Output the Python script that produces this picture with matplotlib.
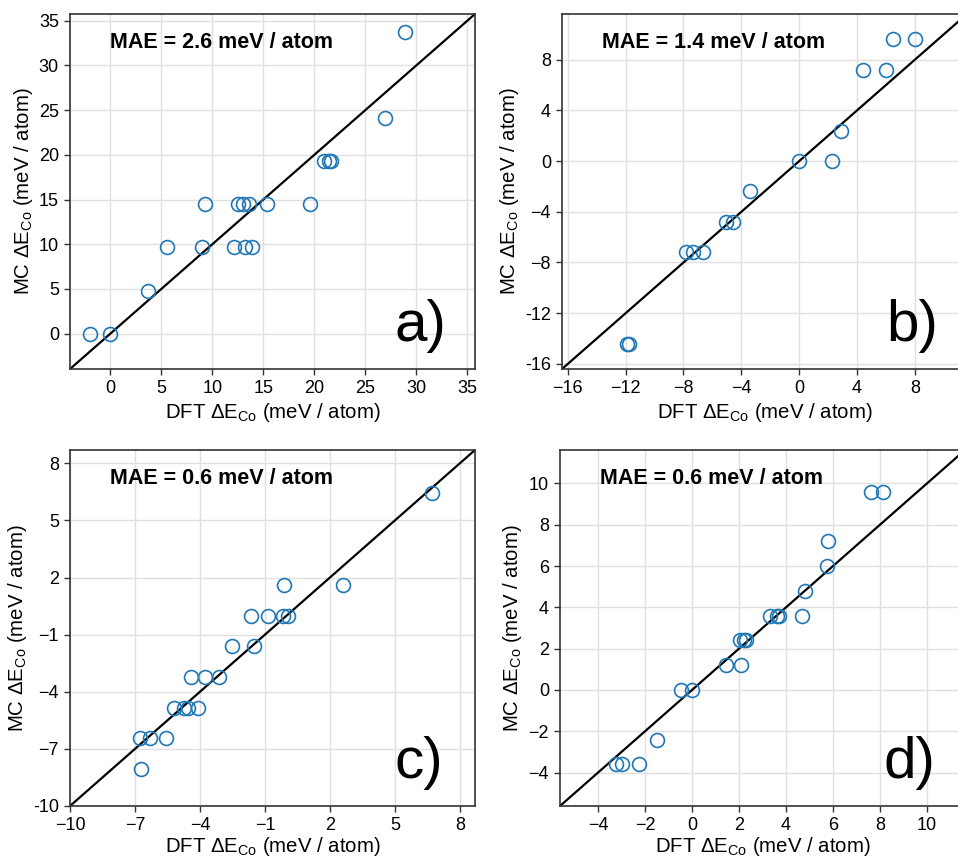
import matplotlib
matplotlib.use('Agg')
import matplotlib.pyplot as plt
import numpy as np

plt.rcParams['font.family'] = ['Liberation Sans', 'DejaVu Sans']
plt.rcParams['mathtext.fontset'] = 'custom'
plt.rcParams['mathtext.rm'] = 'Liberation Sans'
plt.rcParams['mathtext.it'] = 'Liberation Sans:italic'
plt.rcParams['mathtext.bf'] = 'Liberation Sans:bold'

# DFT vs MC energies (meV / atom) for the four systems
a_dft = [-2.0, 0.0, 3.7, 5.6, 8.95, 9.25, 12.1, 12.5, 13.05, 13.55, 13.2, 13.9,
         15.35, 19.6, 20.9, 21.45, 21.65, 26.95, 28.85]
a_mc = [0.0, 0.0, 4.82, 9.64, 9.64, 14.45, 9.64, 14.45, 14.45, 14.45, 9.64, 9.64,
        14.45, 14.45, 19.27, 19.27, 19.27, 24.09, 33.73]

b_dft = [-11.9, -11.8, -7.8, -7.35, -6.65, -5.05, -4.6, -3.4, 0.0, 2.25, 2.9,
         4.4, 6.0, 6.5, 8.0]
b_mc = [-14.4, -14.4, -7.2, -7.2, -7.2, -4.8, -4.8, -2.4, 0.0, 0.0, 2.4,
        7.2, 7.2, 9.6, 9.6]

c_dft = [6.7, -0.1, 2.6, -1.65, -0.85, -0.15, 0.05, -2.5, -1.5, -4.4, -3.75,
         -3.1, -5.2, -4.75, -4.55, -4.1, -6.75, -6.3, -5.55, -6.7]
c_mc = [6.44, 1.61, 1.61, 0.0, 0.0, 0.0, 0.0, -1.61, -1.61, -3.22, -3.22,
        -3.22, -4.83, -4.83, -4.83, -4.83, -6.44, -6.44, -6.44, -8.05]

d_dft = [7.6, 8.15, 5.8, 5.75, 4.8, 4.7, 3.3, 3.6, 3.7, 2.05, 2.2, 2.3, 1.45,
         2.1, -0.45, 0.0, -1.5, -3.25, -3.0, -2.25]
d_mc = [9.6, 9.6, 7.2, 6.0, 4.8, 3.6, 3.6, 3.6, 3.6, 2.4, 2.4, 2.4, 1.2,
        1.2, 0.0, 0.0, -2.4, -3.6, -3.6, -3.6]

mae = [2.6, 1.4, 0.6, 0.6]
panel_tags = ['a)', 'b)', 'c)', 'd)']

limits = [(-3.95, 35.75), (-16.4, 11.6), (-10.0, 8.7), (-5.62, 11.62)]
xticks = [np.arange(0, 36, 5), np.arange(-16, 9, 4), np.arange(-10, 9, 3), np.arange(-4, 11, 2)]
yticks = xticks


def fmt(v, hyphen):
    if v < 0:
        return ('-' if hyphen else '\u2212') + str(abs(int(v)))
    return str(int(v))


fig = plt.figure(figsize=(9.58, 8.58), dpi=100)
W, H = 958, 858
boxes = [(70, 14, 405, 355), (562, 14, 405, 355), (70, 450, 405, 356), (560, 450, 405, 356)]
data = [(a_dft, a_mc), (b_dft, b_mc), (c_dft, c_mc), (d_dft, d_mc)]

for i, (x0, y0, w, h) in enumerate(boxes):
    ax = fig.add_axes([x0 / W, 1 - (y0 + h) / H, w / W, h / H])
    lo, hi = limits[i]
    dft, mc = data[i]
    ax.grid(True, color='#e0e0e0', lw=1.0, zorder=0)
    ax.set_axisbelow(True)
    ax.plot([lo, hi], [lo, hi], color='black', lw=1.6, zorder=2)
    ax.plot(dft, mc, 'o', ms=10, mfc='none', mec='#1f77b4', mew=1.2, zorder=3)
    ax.set_xlim(lo, hi)
    ax.set_ylim(lo, hi)
    ax.set_xticks(xticks[i])
    ax.set_xticklabels([fmt(v, False) for v in xticks[i]])
    ax.set_yticks(yticks[i])
    ax.set_yticklabels([fmt(v, v <= -10) for v in yticks[i]])
    ax.tick_params(labelsize=13, length=4.5, width=1.0, color='#333333', pad=3.5)
    for s in ax.spines.values():
        s.set_color('#333333')
        s.set_linewidth(1.2)
    # bottom row sits right at the figure edge, so pull its x label in a bit
    ax.set_xlabel(r'DFT $\Delta$E$_{\rm Co}$ (meV / atom)', fontsize=14.7,
                  labelpad=3 if i < 2 else 0.5)
    ax.set_ylabel(r'MC $\Delta$E$_{\rm Co}$ (meV / atom)', fontsize=14.7, labelpad=3)
    ax.text(0.1, 0.92, f'MAE = {mae[i]} meV / atom', transform=ax.transAxes,
            fontsize=15.5, fontweight='bold', va='center', ha='left')
    ax.text(0.80, 0.08, panel_tags[i], transform=ax.transAxes, fontsize=42,
            va='baseline', ha='left')

fig.savefig('out.png', dpi=100)
